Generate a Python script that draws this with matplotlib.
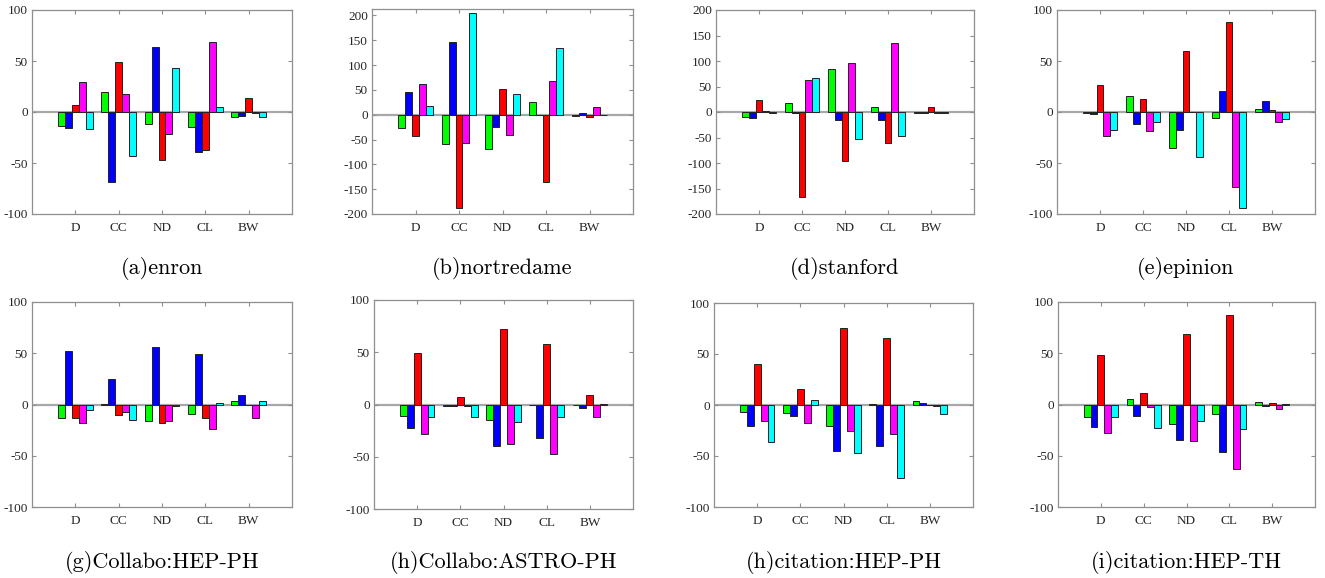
import numpy as np
import matplotlib
matplotlib.use("Agg")
import matplotlib.pyplot as plt

categories = ["D", "CC", "ND", "CL", "BW"]
series_colors = ["#00ff00", "#0000ff", "#ff0000", "#ff00ff", "#00ffff"]

titles = ["(a)enron", "(b)nortredame", "(d)stanford", "(e)epinion",
          "(g)Collabo:HEP-PH", "(h)Collabo:ASTRO-PH", "(h)citation:HEP-PH", "(i)citation:HEP-TH"]

# values[group][series]  series order: green, blue, red, magenta, cyan
enron = [[-13.7, -15.3, 6.5, 29.7, -17.0],
         [19.2, -69.0, 48.6, 17.6, -43.0],
         [-11.4, 64.0, -46.7, -21.5, 42.7],
         [-14.4, -38.8, -37.2, 68.2, 4.6],
         [-5.2, -3.6, 13.7, -1.0, -5.2]]
nortredame = [[-26.8, 45.5, -43.5, 61.5, 18.0],
              [-58.9, 145.8, -188.6, -56.2, 204.0],
              [-68.9, -25.4, 51.5, -40.8, 41.5],
              [26.0, -1.0, -135.8, 68.2, 135.0],
              [-2.7, 4.0, -5.4, 15.4, -1.0]]
stanford = [[-10.4, -11.7, 24.0, 1.3, -2.6],
            [17.0, -1.0, -165.7, 62.6, 67.2],
            [84.8, -15.7, -96.6, 96.6, -52.2],
            [9.1, -15.7, -60.7, 135.7, -46.3],
            [-2.6, -2.6, 9.1, -1.3, -2.0]]
epinion = [[-1.3, -1.6, 26.8, -23.8, -17.9],
           [15.3, -11.7, 13.0, -18.6, -10.1],
           [-34.9, -17.6, 60.0, -0.3, -44.4],
           [-6.2, 20.6, 88.4, -73.1, -94.0],
           [2.9, 10.8, 1.6, -10.1, -7.2]]
collabo_hep_ph = [[-13.0, 52.2, -12.7, -18.3, -4.9],
                  [0.7, 24.8, -10.1, -7.8, -14.7],
                  [-15.7, 56.1, -17.6, -16.0, -1.3],
                  [-8.8, 49.3, -13.0, -23.8, 1.6],
                  [3.3, 9.5, -0.3, -13.0, 3.3]]
collabo_astro_ph = [[-11.2, -22.6, 49.1, -28.1, -11.8],
                    [-1.6, -1.0, 7.3, -1.0, -12.1],
                    [-14.4, -39.9, 72.1, -37.6, -17.2],
                    [-0.3, -32.2, 57.7, -47.8, -12.4],
                    [-0.3, -2.9, 9.3, -11.8, 0.6]]
citation_hep_ph = [[-6.5, -20.9, 40.2, -15.7, -35.9],
                   [-8.2, -10.8, 15.4, -18.0, 4.9],
                   [-20.3, -45.4, 75.2, -25.2, -46.7],
                   [1.0, -39.9, 65.7, -28.4, -71.2],
                   [3.9, 1.6, -0.3, -0.7, -8.8]]
citation_hep_th = [[-12.1, -21.9, 48.0, -27.7, -12.1],
                   [5.5, -11.4, 10.8, -2.6, -22.8],
                   [-18.9, -34.3, 69.2, -35.6, -15.7],
                   [-9.1, -46.7, 87.4, -62.6, -23.5],
                   [2.3, -1.3, 1.6, -4.6, 0.3]]

datasets = [enron, nortredame, stanford, epinion,
            collabo_hep_ph, collabo_astro_ph, citation_hep_ph, citation_hep_th]
ylims = [(-100, 100), (-200, 213), (-200, 200), (-100, 100),
         (-100, 100), (-100, 100), (-100, 100), (-100, 100)]
yticks_list = [[-100, -50, 0, 50, 100],
               [-200, -150, -100, -50, 0, 50, 100, 150, 200],
               [-200, -150, -100, -50, 0, 50, 100, 150, 200],
               [-100, -50, 0, 50, 100],
               [-100, -50, 0, 50, 100], [-100, -50, 0, 50, 100],
               [-100, -50, 0, 50, 100], [-100, -50, 0, 50, 100]]

# axes pixel boxes (x0, x1, y_top, y_bottom)
W, H = 1325, 578
boxes = [(32, 292, 10, 214), (372, 633, 9, 214), (716, 974, 10, 214), (1057, 1315, 10, 214),
         (32, 292, 302, 507), (374, 633, 300, 509), (714, 973, 303, 507), (1058, 1315, 302, 507)]
title_y = [268, 268, 268, 268, 562, 562, 562, 562]

fig = plt.figure(figsize=(W / 100, H / 100), dpi=100)
edge_gray = "#8f8f8f"
tick_font = {"family": "Liberation Serif", "size": 9.5}

for i, data in enumerate(datasets):
    x0, x1, yt, yb = boxes[i]
    ax = fig.add_axes([x0 / W, 1 - yb / H, (x1 - x0) / W, (yb - yt) / H])
    vals = np.array(data)
    xs = np.arange(1, len(categories) + 1)
    bw = 0.16
    ax.axhline(0, color="#a8a8a8", lw=1.6, zorder=1)
    for k in range(vals.shape[1]):
        ax.bar(xs + (k - 2) * bw, vals[:, k], width=bw, color=series_colors[k],
               edgecolor="#222222", linewidth=0.7, zorder=2)
    ax.set_xlim(0, 6)
    ax.set_ylim(*ylims[i])
    ax.set_xticks(xs)
    ax.set_xticklabels(categories, fontdict=tick_font, color="#262626")
    yt_ = yticks_list[i]
    ax.set_yticks(yt_)
    ax.set_yticklabels([str(v) for v in yt_], fontdict=tick_font, color="#262626")
    ax.tick_params(direction="in", length=3, width=0.8, color=edge_gray,
                   top=True, right=True, pad=3)
    ax.tick_params(axis="x", pad=6)
    for s in ax.spines.values():
        s.set_color(edge_gray)
        s.set_linewidth(0.9)
    fig.text((x0 + x1) / 2 / W, 1 - title_y[i] / H, titles[i], ha="center", va="center",
             fontsize=16, family="cmr10")

fig.savefig("out.png", dpi=100)
